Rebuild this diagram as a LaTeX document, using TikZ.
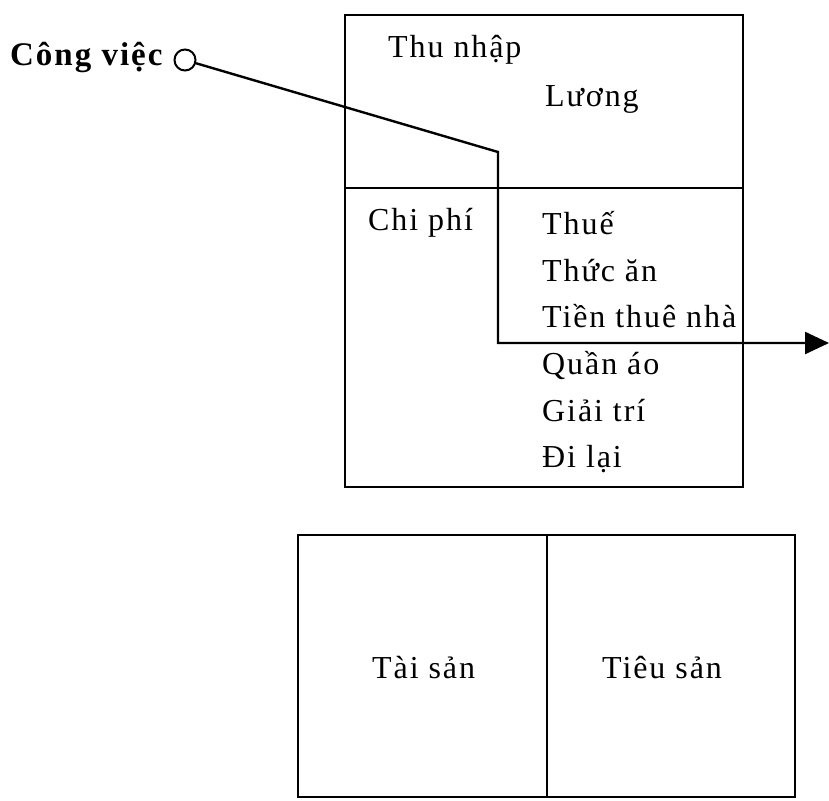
\documentclass[tikz,border=0pt]{standalone}
\usepackage{fontspec}
\setmainfont{Liberation Serif}[LetterSpace=6]
\usetikzlibrary{arrows.meta}
\begin{document}
\begin{tikzpicture}[x=1pt,y=-1pt,
  lbl/.style={anchor=base west,inner sep=0pt,font=\fontsize{32}{36}\selectfont},
  box/.style={draw,line width=2.2pt},
  conn/.style={draw,line width=2.4pt},
  ring/.style={circle,draw,line width=2pt,minimum size=21pt,inner sep=0pt}]
\useasboundingbox (0,0) rectangle (829,800);
% top box
\draw[box] (345,15) rectangle (743,487);
\draw[box] (345,188) -- (743,188);
% bottom box
\draw[box] (298,535) rectangle (795,797);
\draw[box] (547,535) -- (547,797);
% labels
\node[lbl,font=\bfseries\fontsize{33}{36}\selectfont] (cvl) at (10,66) {Công việc};
\node[ring] (cv) at (185,60) {};
\node[lbl] (thu) at (388,57) {Thu nhập};
\node[lbl] (luong) at (545,106) {Lương};
\node[lbl] (chi) at (368,230) {Chi phí};
\node[lbl] (thue) at (542,234) {Thuế};
\node[lbl] (thuc) at (542,281) {Thức ăn};
\node[lbl] (tien) at (542,327) {Tiền thuê nhà};
\node[lbl] (quan) at (542,374) {Quần áo};
\node[lbl] (giai) at (542,421) {Giải trí};
\node[lbl] (di) at (542,467) {Đi lại};
\node[lbl] (tai) at (372,678) {Tài sản};
\node[lbl] (tieu) at (602,678) {Tiêu sản};
% connector
\coordinate (b1) at (498,152);
\coordinate (b2) at (498,343);
\coordinate (tip) at (829,343);
\draw[conn,-{Triangle[length=24pt,width=22pt]}] (cv) -- (b1) -- (b2) -- (tip);
\end{tikzpicture}
\end{document}
